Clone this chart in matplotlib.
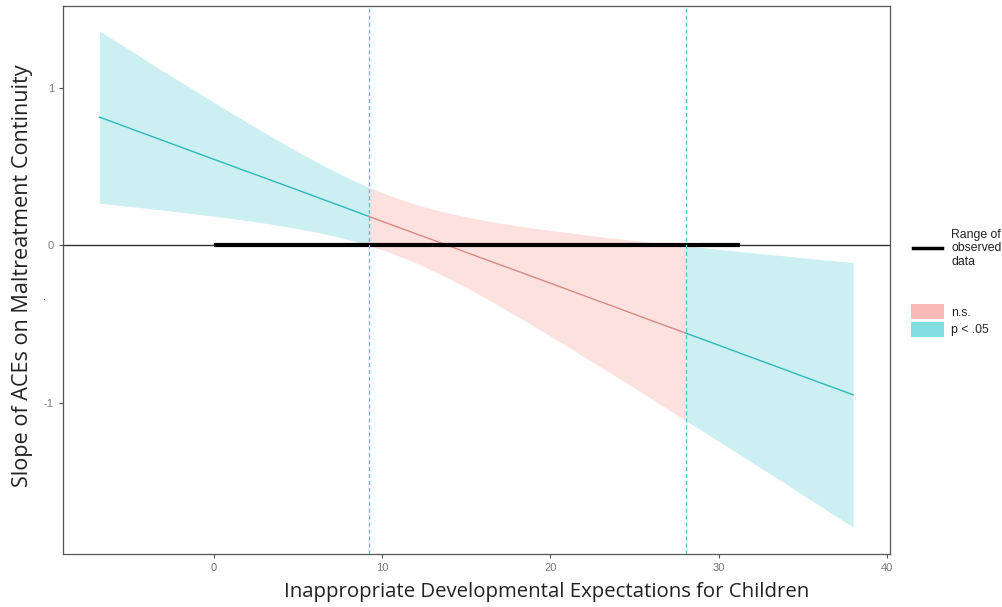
import matplotlib
matplotlib.use("Agg")
import matplotlib.pyplot as plt
from matplotlib.lines import Line2D
from matplotlib.patches import Rectangle
import numpy as np

plt.rcParams["axes.unicode_minus"] = False

# Values
x_vals = [-6.8, -5.5, -4, -2.5, -1, 0.5, 2, 3.5, 5, 6.5, 8, 9.2, 10.5, 12, 13.5, 15,
          16.5, 18, 19.5, 21, 22.5, 24, 26, 28.05, 29.5, 31, 32.5, 34, 36, 38.0]
slope_vals = [0.813, 0.762, 0.703, 0.644, 0.585, 0.526, 0.467, 0.409, 0.350, 0.291,
              0.232, 0.184, 0.133, 0.074, 0.016, -0.044, -0.103, -0.161, -0.220, -0.279,
              -0.338, -0.397, -0.476, -0.556, -0.613, -0.672, -0.731, -0.790, -0.869,
              -0.947]
upper_vals = [1.359, 1.272, 1.171, 1.071, 0.972, 0.874, 0.778, 0.684, 0.593, 0.506,
              0.426, 0.368, 0.313, 0.259, 0.216, 0.180, 0.150, 0.125, 0.102, 0.081,
              0.061, 0.043, 0.019, 0.0, -0.020, -0.036, -0.052, -0.068, -0.089, -0.109]
lower_vals = [0.267, 0.253, 0.235, 0.217, 0.198, 0.178, 0.157, 0.133, 0.106, 0.075,
              0.037, 0.0, -0.046, -0.110, -0.185, -0.267, -0.355, -0.448, -0.543, -0.640,
              -0.738, -0.837, -0.971, -1.110, -1.207, -1.308, -1.410, -1.512, -1.649,
              -1.785]
jn_bounds = [9.2, 28.05]
observed_range = [0, 31.3]
x_ticks = [0, 10, 20, 30, 40]
y_ticks = [-1, 0, 1]

x = np.array(x_vals)
s = np.array(slope_vals)
u = np.array(upper_vals)
l = np.array(lower_vals)

W, H = 1002, 607
fig = plt.figure(figsize=(W / 100, H / 100), dpi=100)
ax = fig.add_axes([63 / W, 1 - 554 / H, (890 - 63) / W, (554 - 6) / H])

cyan_fill = "#CCEFF1"
red_fill = "#FDE1DF"
cyan_line = "#2DB8BB"
red_line = "#D68A82"

m_left = x <= jn_bounds[0]
m_mid = (x >= jn_bounds[0]) & (x <= jn_bounds[1])
m_right = x >= jn_bounds[1]
for m, fc, lc in [(m_left, cyan_fill, cyan_line), (m_mid, red_fill, red_line),
                  (m_right, cyan_fill, cyan_line)]:
    ax.fill_between(x[m], l[m], u[m], color=fc, lw=0, zorder=1)
    ax.plot(x[m], s[m], color=lc, lw=1.0, zorder=3)

ax.axhline(0, color="#333333", lw=1.0, zorder=2)
ax.plot(observed_range, [0, 0], color="black", lw=3, solid_capstyle="butt", zorder=4)
for b in jn_bounds:
    ax.axvline(b, color="#5BC6D0", lw=1.0, ls=(0, (3, 2)), zorder=5)

ax.set_xlim(-8.96, 40.19)
ax.set_ylim(-1.956, 1.517)
ax.set_xticks(x_ticks)
ax.set_yticks(y_ticks)
ax.tick_params(colors="#555555", labelsize=8, length=3, width=0.8, labelcolor="#777777")
for lab in ax.get_xticklabels() + ax.get_yticklabels():
    lab.set_family("Liberation Sans")
for sp in ax.spines.values():
    sp.set_color("#555555")
    sp.set_linewidth(0.9)

fig.text(547 / W, 1 - 592 / H, "Inappropriate Developmental Expectations for Children",
         family="Open Sans", fontsize=14.7, ha="center", va="center", color="#222222")
fig.text(23 / W, 1 - 276 / H, "Slope of ACEs on Maltreatment Continuity",
         family="Open Sans", fontsize=15.6, ha="center", va="center", rotation=90,
         color="#222222")
fig.text(44 / W, 1 - 297 / H, ".", fontsize=7, ha="center", va="center", color="#444444")

# Legend (drawn outside the panel)
fig.add_artist(Line2D([913 / W, 942 / W], [1 - 248 / H, 1 - 248 / H],
                      transform=fig.transFigure, color="black", lw=2.5))
fig.text(951 / W, 1 - 229 / H, "Range of\nobserved\ndata", family="Liberation Sans",
         fontsize=8.8, ha="left", va="top", color="#222222", linespacing=1.15)
fig.add_artist(Rectangle((911 / W, 1 - 319 / H), 33 / W, 15 / H,
                         transform=fig.transFigure, color="#F9BAB5", lw=0))
fig.add_artist(Rectangle((911 / W, 1 - 337 / H), 33 / W, 15 / H,
                         transform=fig.transFigure, color="#82DDE0", lw=0))
fig.text(951 / W, 1 - 313 / H, "n.s.", family="Liberation Sans", fontsize=8.8,
         ha="left", va="center", color="#222222")
fig.text(951 / W, 1 - 330 / H, "p < .05", family="Liberation Sans", fontsize=8.8,
         ha="left", va="center", color="#222222")

fig.savefig("out.png", dpi=100)
